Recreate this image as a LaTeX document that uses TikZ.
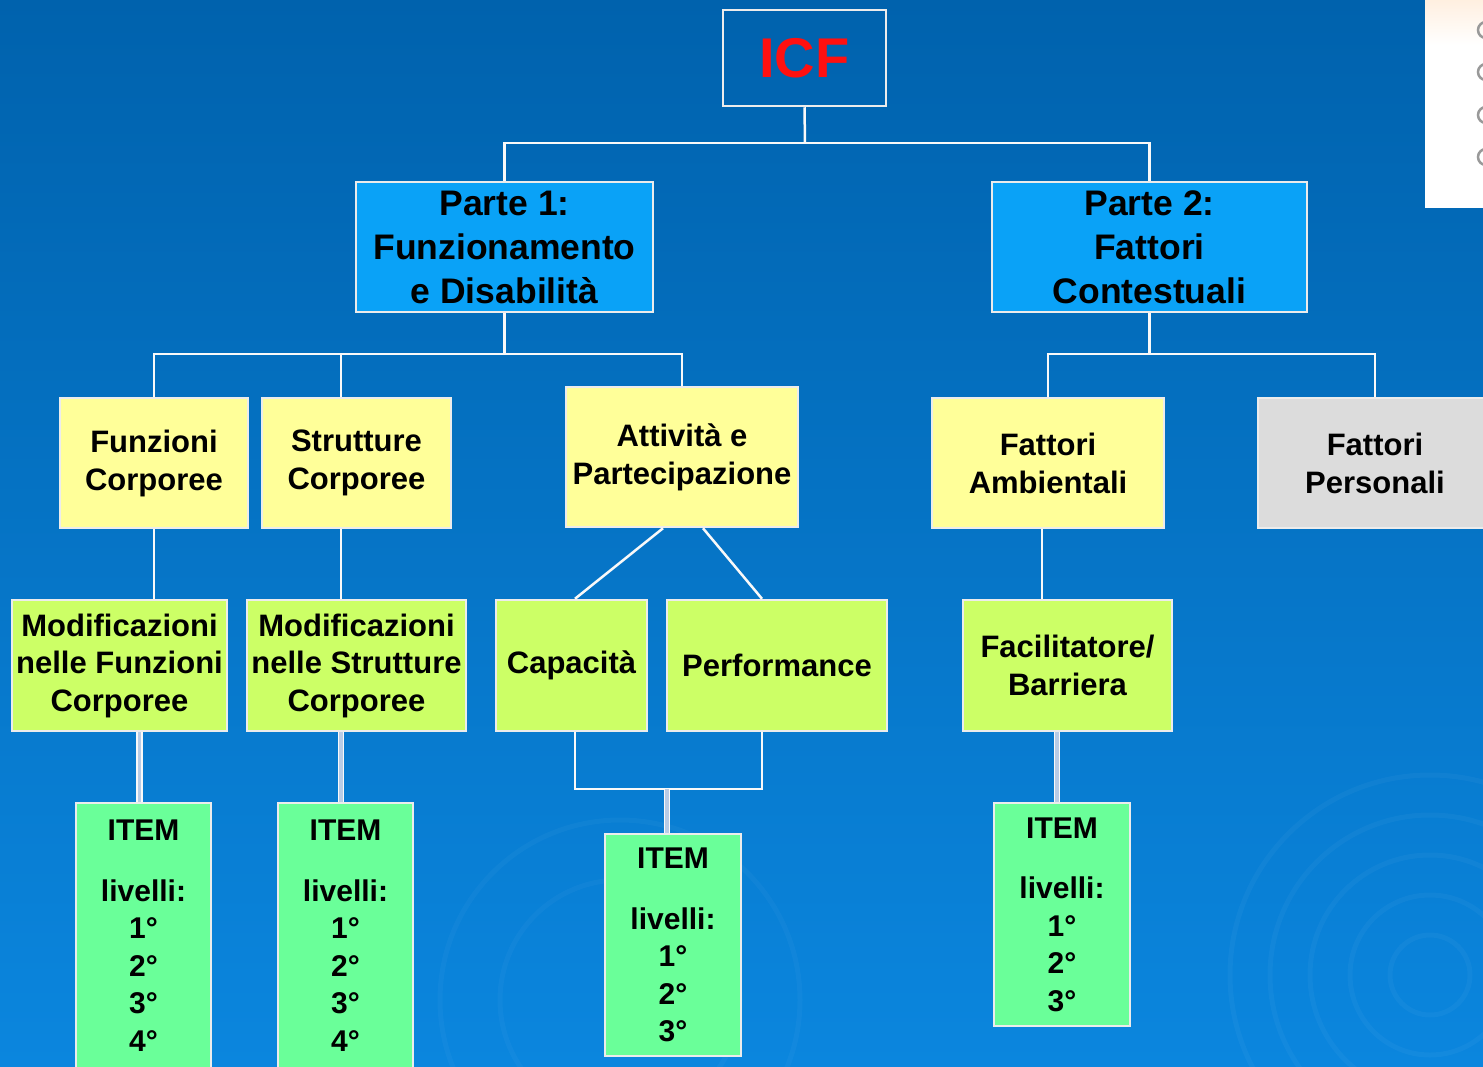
\documentclass[tikz,border=0pt]{standalone}
\usepackage{fontspec}
\setmainfont{Liberation Sans}
\definecolor{bgtop}{HTML}{0062AD}
\definecolor{bgbot}{HTML}{0B86DE}
\definecolor{boxline}{HTML}{ECECEC}
\definecolor{parte}{HTML}{0AA2F7}
\definecolor{pyellow}{HTML}{FFFF99}
\definecolor{lime}{HTML}{CCFF66}
\definecolor{itemg}{HTML}{6AFF99}
\definecolor{pgray}{HTML}{DCDCDC}
\definecolor{icfred}{HTML}{FF1010}
\definecolor{dblfill}{HTML}{B8CCE6}
\begin{document}
\begin{tikzpicture}[x=1pt,y=-1pt,
  box/.style={draw=boxline, line width=2.5pt, inner sep=0pt, align=center,
    font=\fontsize{31}{38}\selectfont\bfseries},
  wline/.style={draw=white!95!gray, line width=2.5pt},
  dbl/.style={draw=white!95!gray, line width=1.5pt, double=dblfill, double distance=3.5pt}]
\useasboundingbox (0,0) rectangle (1483,1066);
% background
\shade[top color=bgtop, bottom color=bgbot] (0,0) rectangle (1483,1066);
\begin{scope}
\clip (0,0) rectangle (1483,1066);
\foreach \r in {40,80,120,160,200}{
  \draw[white, opacity=0.035, line width=5pt] (1430,975) circle (\r);
}
\foreach \r in {120,180}{
  \draw[white, opacity=0.03, line width=5pt] (620,1000) circle (\r);
}
\end{scope}
% top-right panel
\fill[white] (1425,0) rectangle (1483,208);
\shade[top color=orange!12, bottom color=white] (1425,0) rectangle (1483,45);
\begin{scope}
\clip (1425,0) rectangle (1483,208);
\foreach \yy in {30,72,115,157}{
  \draw[gray!80, line width=2.5pt] (1486,\yy) circle (8);
}
\end{scope}

% nodes
\node[box, minimum width=163, minimum height=96, text=icfred,
  font=\fontsize{56}{60}\selectfont\bfseries] (icf) at (804.5,58) {ICF};
\node[box, fill=parte, minimum width=297, minimum height=130,
  font=\fontsize{35.5}{44}\selectfont\bfseries] (p1) at (504.5,247) {Parte 1:\\Funzionamento\\e Disabilità};
\node[box, fill=parte, minimum width=315, minimum height=130,
  font=\fontsize{35.5}{44}\selectfont\bfseries] (p2) at (1149.5,247) {Parte 2:\\Fattori\\Contestuali};
\node[box, fill=pyellow, minimum width=188, minimum height=130] (fc) at (154,463) {Funzioni\\Corporee};
\node[box, fill=pyellow, minimum width=189, minimum height=130] (sc) at (356.5,463) {Strutture\\Corporee};
\node[box, fill=pyellow, minimum width=232, minimum height=140] (ap) at (682,457) {Attività e\\Partecipazione};
\node[box, fill=pyellow, minimum width=232, minimum height=130] (fa) at (1048,463) {Fattori\\Ambientali};
\node[box, fill=pgray, minimum width=234, minimum height=130] (fp) at (1375,463) {Fattori\\Personali};
\node[box, fill=lime, minimum width=215, minimum height=131, font=\fontsize{31}{37.5}\selectfont\bfseries] (mf) at (119.5,665.5) {Modificazioni\\nelle Funzioni\\Corporee};
\node[box, fill=lime, minimum width=219, minimum height=131, font=\fontsize{31}{37.5}\selectfont\bfseries] (ms) at (356.5,665.5) {Modificazioni\\nelle Strutture\\Corporee};
\node[box, fill=lime, minimum width=151, minimum height=131] (cap) at (571.5,665.5) {Capacità};
\node[box, fill=lime, minimum width=220, minimum height=131] (perf) at (777,665.5) {Performance};
\node[box, fill=lime, minimum width=209, minimum height=131] (fb) at (1067.5,665.5) {Facilitatore/\\Barriera};
\node[box, fill=itemg, minimum width=135, minimum height=265, font=\fontsize{30}{37.5}\selectfont\bfseries] (it1) at (143.5,935.5) {ITEM\\[23pt]livelli:\\1°\\2°\\3°\\4°};
\node[box, fill=itemg, minimum width=135, minimum height=265, font=\fontsize{30}{37.5}\selectfont\bfseries] (it2) at (345.5,935.5) {ITEM\\[23pt]livelli:\\1°\\2°\\3°\\4°};
\node[box, fill=itemg, minimum width=136, minimum height=222, font=\fontsize{30}{37.5}\selectfont\bfseries] (it3) at (673,945) {ITEM\\[23pt]livelli:\\1°\\2°\\3°};
\node[box, fill=itemg, minimum width=136, minimum height=223, font=\fontsize{30}{37.5}\selectfont\bfseries] (it4) at (1062,914.5) {ITEM\\[23pt]livelli:\\1°\\2°\\3°};

% connectors
\coordinate (j1) at (805,143);
\draw[wline] (icf.south) -- (j1);
\draw[wline] (p1.north) |- (j1) -| (p2.north);
\coordinate (j2) at (504.5,354);
\draw[wline] (p1.south) -- (j2);
\draw[wline] (fc.north) |- (j2) -| (ap.north);
\coordinate (k) at (341,354);
\draw[wline] (k) -- (k |- sc.north);
\coordinate (j3) at (1149.5,354);
\draw[wline] (p2.south) -- (j3);
\draw[wline] (fa.north) |- (j3) -| (fp.north);
\draw[wline] (fc.south) -- (fc.south |- mf.north);
\draw[wline] (k |- sc.south) -- (k |- ms.north);
\draw[wline] ([xshift=-19pt]ap.south) -- ([xshift=3.5pt]cap.north);
\draw[wline] ([xshift=21pt]ap.south) -- ([xshift=-15pt]perf.north);
\coordinate (j4) at (667,789);
\draw[wline] ([xshift=3.5pt]cap.south) |- (j4) -| ([xshift=-15pt]perf.south);
\draw[wline] ([xshift=-6pt]fa.south) -- ([xshift=-6pt]fa.south |- fb.north);
\draw[dbl] ([xshift=-4pt]it1.north |- mf.south) -- ([xshift=-4pt]it1.north);
\draw[dbl] ([xshift=-4.5pt]it2.north |- ms.south) -- ([xshift=-4.5pt]it2.north);
\draw[dbl] (j4) -- (j4 |- it3.north);
\draw[dbl] ([xshift=-5pt]it4.north |- fb.south) -- ([xshift=-5pt]it4.north);
\end{tikzpicture}
\end{document}
